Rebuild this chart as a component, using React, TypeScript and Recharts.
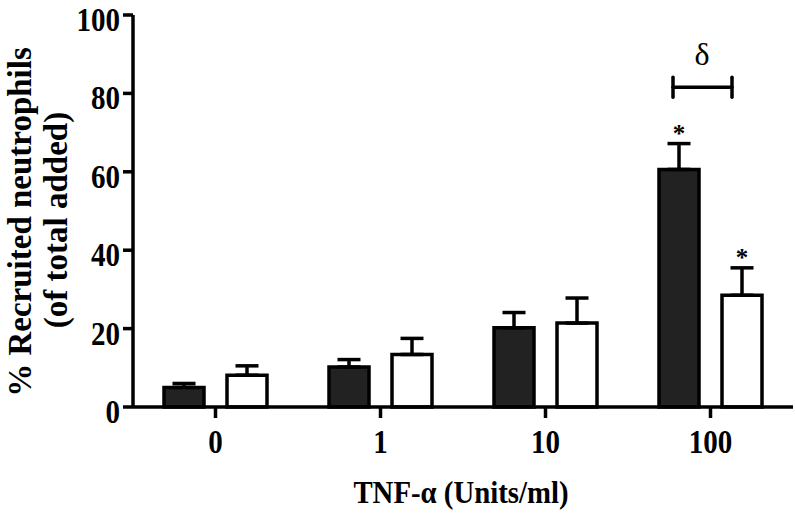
import React from 'react';
import { BarChart, Bar, XAxis, YAxis, ErrorBar, LabelList, Label } from 'recharts';

const doses = ['0', '1', '10', '100'];
const darkMean = [5, 10.2, 20.2, 60.6];
const darkSem = [1.0, 1.9, 3.9, 6.6];
const whiteMean = [8.1, 13.4, 21.4, 28.5];
const whiteSem = [2.4, 4.1, 6.4, 7.0];
const darkStars = ['', '', '', '*'];
const whiteStars = ['', '', '', '*'];
const yTicks = [0, 20, 40, 60, 80, 100];
const bracketLevel = 81.6;

const FONT = '"Liberation Serif", "Times New Roman", serif';
const INK = '#000';

const data = doses.map((d, i) => ({
  dose: d,
  dark: darkMean[i],
  darkErr: [0, darkSem[i]],
  white: whiteMean[i],
  whiteErr: [0, whiteSem[i]],
}));

// star above the error bar; px per unit taken from the bar itself
const starLabel = (means: number[], sems: number[], stars: string[], withBracket: boolean) => (props: any) => {
  const { x, y, width, height, index } = props;
  const mark = stars[index];
  if (!mark) return null;
  const pxPerUnit = height / means[index];
  const capY = y - sems[index] * pxPerUnit;
  const cx = x + width / 2;
  const baseY = y + height;
  const by = baseY - bracketLevel * pxPerUnit;
  return (
    <g>
      <text x={cx} y={capY - 2} textAnchor="middle" fontFamily={FONT} fontWeight="bold" fontSize={25} fill={INK}>
        {mark}
      </text>
      {withBracket && (
        <g stroke={INK} strokeWidth={3.5} strokeLinecap="round">
          <line x1={x + 14} y1={by} x2={x + 73} y2={by} />
          <line x1={x + 14} y1={by - 10} x2={x + 14} y2={by + 10} />
          <line x1={x + 73} y1={by - 10} x2={x + 73} y2={by + 10} />
          <text
            x={x + 43}
            y={by - 22}
            textAnchor="middle"
            fontFamily={FONT}
            fontSize={32}
            fill={INK}
            stroke="none"
          >
            δ
          </text>
        </g>
      )}
    </g>
  );
};

// the original type is a touch narrower than Liberation Serif
const YTick = (props: any) => {
  const { x, y, payload } = props;
  return (
    <g transform={`translate(${x},${y + 16}) scale(0.88,1)`}>
      <text textAnchor="end" fontFamily={FONT} fontWeight="bold" fontSize={33} fill={INK}>
        {payload.value}
      </text>
    </g>
  );
};

const XTick = (props: any) => {
  const { x, y, payload } = props;
  return (
    <g transform={`translate(${x},${y + 35}) scale(0.88,1)`}>
      <text textAnchor="middle" fontFamily={FONT} fontWeight="bold" fontSize={33} fill={INK}>
        {payload.value}
      </text>
    </g>
  );
};

const YTitle = () => (
  <g fontFamily={FONT} fontWeight="bold" fontSize={33} fill={INK}>
    <text x={0} y={0} textAnchor="middle" transform="translate(31,222) rotate(-90)">
      % Recruited neutrophils
    </text>
    <text x={0} y={0} textAnchor="middle" transform="translate(67,220) rotate(-90)">
      (of total added)
    </text>
  </g>
);

const XTitle = (props: any) => {
  const vb = props.viewBox || { x: 133, y: 407, width: 660 };
  return (
    <g transform={`translate(${vb.x + vb.width / 2 - 2},503) scale(0.9,1)`}>
      <text textAnchor="middle" fontFamily={FONT} fontWeight="bold" fontSize={32} fill={INK}>
        TNF-α (Units/ml)
      </text>
    </g>
  );
};

const App: React.FC = () => {
  return (
    <div style={{ position: 'absolute', left: 0, top: 0, background: '#fff' }}>
      <BarChart
        width={795}
        height={513}
        data={data}
        margin={{ top: 15, right: 2, left: 0, bottom: 6 }}
        barSize={40}
        barGap={23}
      >
        <XAxis
          dataKey="dose"
          height={100}
          tick={<XTick />}
          tickSize={11}
          tickMargin={0}
          axisLine={{ stroke: INK, strokeWidth: 3.5 }}
          tickLine={{ stroke: INK, strokeWidth: 3.5 }}
        >
          <Label content={<XTitle />} />
        </XAxis>
        <YAxis
          width={133}
          domain={[0, 100]}
          ticks={yTicks}
          interval={0}
          tick={<YTick />}
          tickSize={10}
          tickMargin={3}
          axisLine={{ stroke: INK, strokeWidth: 3.5 }}
          tickLine={{ stroke: INK, strokeWidth: 3.5 }}
        >
          <Label content={<YTitle />} />
        </YAxis>
        <Bar dataKey="dark" fill="#222222" stroke={INK} strokeWidth={3.5} isAnimationActive={false}>
          <ErrorBar dataKey="darkErr" width={11.5} stroke={INK} strokeWidth={3.5} />
          <LabelList dataKey="dark" content={starLabel(darkMean, darkSem, darkStars, true)} />
        </Bar>
        <Bar dataKey="white" fill="#ffffff" stroke={INK} strokeWidth={3.5} isAnimationActive={false}>
          <ErrorBar dataKey="whiteErr" width={11.5} stroke={INK} strokeWidth={3.5} />
          <LabelList dataKey="white" content={starLabel(whiteMean, whiteSem, whiteStars, false)} />
        </Bar>
      </BarChart>
    </div>
  );
};

export default App;
